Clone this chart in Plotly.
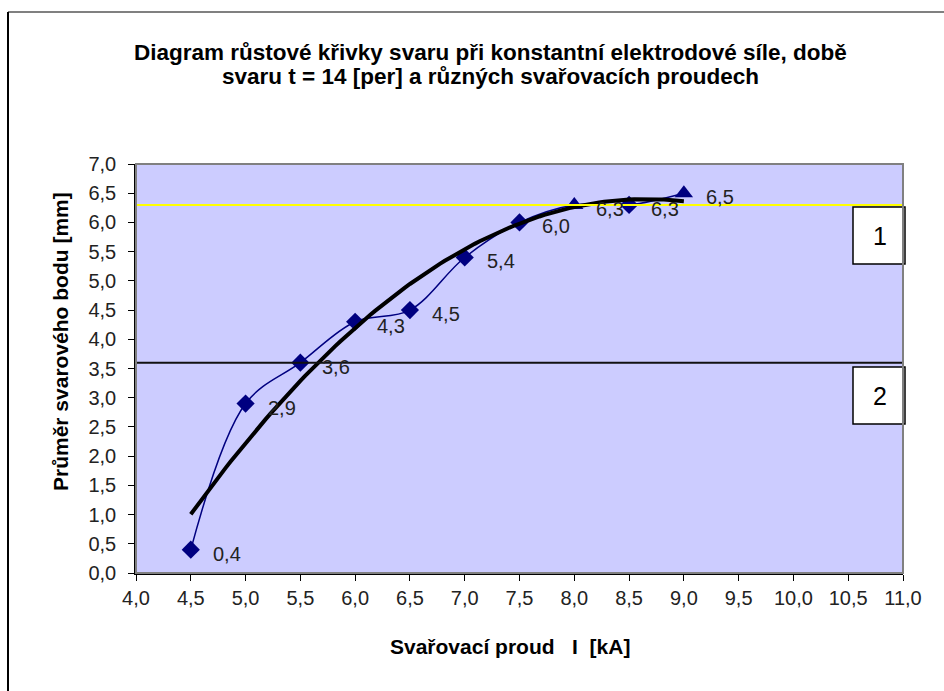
import numpy as np
import plotly.graph_objects as go

# Data
current_kA = [4.5, 5.0, 5.5, 6.0, 6.5, 7.0, 7.5, 8.0, 8.5, 9.0]
diameter_mm = [0.4, 2.9, 3.6, 4.3, 4.5, 5.4, 6.0, 6.3, 6.3, 6.5]
marker_symbols = ["diamond"] * 7 + ["triangle-up", "diamond", "triangle-up"]
marker_sizes = [14] * 7 + [16, 14, 16]
x_ticks = [4.0, 4.5, 5.0, 5.5, 6.0, 6.5, 7.0, 7.5, 8.0, 8.5, 9.0, 9.5, 10.0, 10.5, 11.0]
y_ticks = [0.0, 0.5, 1.0, 1.5, 2.0, 2.5, 3.0, 3.5, 4.0, 4.5, 5.0, 5.5, 6.0, 6.5, 7.0]
upper_limit = 6.3
lower_limit = 3.6
zone_labels = ["1", "2"]
title_lines = ["Diagram růstové křivky svaru při konstantní elektrodové síle, době",
               "svaru t = 14 [per] a různých svařovacích proudech"]

def cz(v):
    return f"{v:.1f}".replace(".", ",")

FONT = "Liberation Sans, Arial, sans-serif"

fig = go.Figure()

# polynomial (2nd order) trendline as in Excel
coef = np.polyfit(current_kA, diameter_mm, 2)
tx = np.linspace(min(current_kA), max(current_kA), 100)
ty = np.polyval(coef, tx)

fig.add_trace(go.Scatter(
    x=current_kA, y=diameter_mm, mode="lines+markers",
    line=dict(color="#000080", width=1.5, shape="spline", smoothing=1.0),
    marker=dict(symbol=marker_symbols, size=marker_sizes, color="#000080",
                opacity=1, line=dict(width=0)),
    showlegend=False, hoverinfo="x+y"))

fig.add_trace(go.Scatter(
    x=tx, y=ty, mode="lines", line=dict(color="black", width=4),
    showlegend=False, hoverinfo="skip"))

# data labels
for xv, yv in zip(current_kA, diameter_mm):
    fig.add_annotation(x=xv, y=yv, text=cz(yv), showarrow=False,
                       xanchor="left", yanchor="middle", xshift=20, yshift=-4,
                       font=dict(family=FONT, size=20, color="#222222"))

# horizontal limit lines
fig.add_shape(type="line", xref="paper", x0=0, x1=1, yref="y", y0=upper_limit, y1=upper_limit,
              line=dict(color="#FFFF00", width=2))
fig.add_shape(type="line", xref="paper", x0=0, x1=1, yref="y", y0=lower_limit, y1=lower_limit,
              line=dict(color="#111111", width=2))

# plot area: x 136..903, y 164..573 px
def px_x(p):
    return (p - 136) / (903 - 136)
def px_y(p):
    return (573 - p) / (573 - 164)

boxes = [(207, 264), (367, 424)]
for lab, (ytop, ybot) in zip(zone_labels, boxes):
    fig.add_shape(type="rect", xref="paper", yref="paper",
                  x0=px_x(853), x1=px_x(905), y0=px_y(ybot), y1=px_y(ytop),
                  line=dict(color="black", width=1.5), fillcolor="white")
    fig.add_annotation(xref="paper", yref="paper", x=px_x(880), y=px_y((ytop + ybot) / 2),
                       xanchor="center", yanchor="middle",
                       text=lab, showarrow=False, font=dict(family=FONT, size=25, color="black"))

# plot area gray frame (top/right)
fig.add_shape(type="rect", xref="paper", yref="paper", x0=0, x1=1, y0=0, y1=1,
              line=dict(color="#808080", width=2), layer="above")

# outer chart border (top gray, left black)
fig.add_shape(type="line", xref="paper", yref="paper",
              x0=px_x(8), x1=px_x(944), y0=px_y(12), y1=px_y(12),
              line=dict(color="#808080", width=2))
fig.add_shape(type="line", xref="paper", yref="paper",
              x0=px_x(8), x1=px_x(8), y0=px_y(12), y1=px_y(700),
              line=dict(color="black", width=2))

# title (two lines, tighter spacing)
for line, ypx in zip(title_lines, [52, 77]):
    fig.add_annotation(xref="paper", yref="paper", x=px_x(490), y=px_y(ypx),
                       xanchor="center", yanchor="middle", text=f"<b>{line}</b>",
                       showarrow=False, font=dict(family=FONT, size=22.5, color="black"))

# axis titles
fig.add_annotation(xref="paper", yref="paper", x=px_x(510), y=px_y(646),
                   xanchor="center", yanchor="middle",
                   text="<b>Svařovací proud   I  [kA]</b>", showarrow=False,
                   font=dict(family=FONT, size=21, color="black"))
fig.add_annotation(xref="paper", yref="paper", x=px_x(60), y=px_y(342), textangle=-90,
                   xanchor="center", yanchor="middle",
                   text="<b>Průměr svarového bodu [mm]</b>", showarrow=False,
                   font=dict(family=FONT, size=21, color="black"))

fig.update_layout(
    width=944, height=691,
    margin=dict(l=136, r=41, t=164, b=118),
    paper_bgcolor="white", plot_bgcolor="#CCCCFF",
    font=dict(family=FONT, size=20, color="black"),
    xaxis=dict(range=[4.0, 11.0], tickvals=x_ticks, ticktext=[cz(v) for v in x_ticks],
               showgrid=False, zeroline=False, showline=True, linecolor="black", linewidth=1.5,
               ticks="outside", ticklen=6, tickcolor="black",
               tickfont=dict(family=FONT, size=20, color="#222222")),
    yaxis=dict(range=[0.0, 7.0], tickvals=y_ticks, ticktext=[cz(v) for v in y_ticks],
               showgrid=False, zeroline=False, showline=True, linecolor="black", linewidth=1.5,
               ticks="outside", ticklen=6, tickcolor="black", ticklabelstandoff=8,
               tickfont=dict(family=FONT, size=20, color="#222222")),
)

fig.write_html("out.html")
